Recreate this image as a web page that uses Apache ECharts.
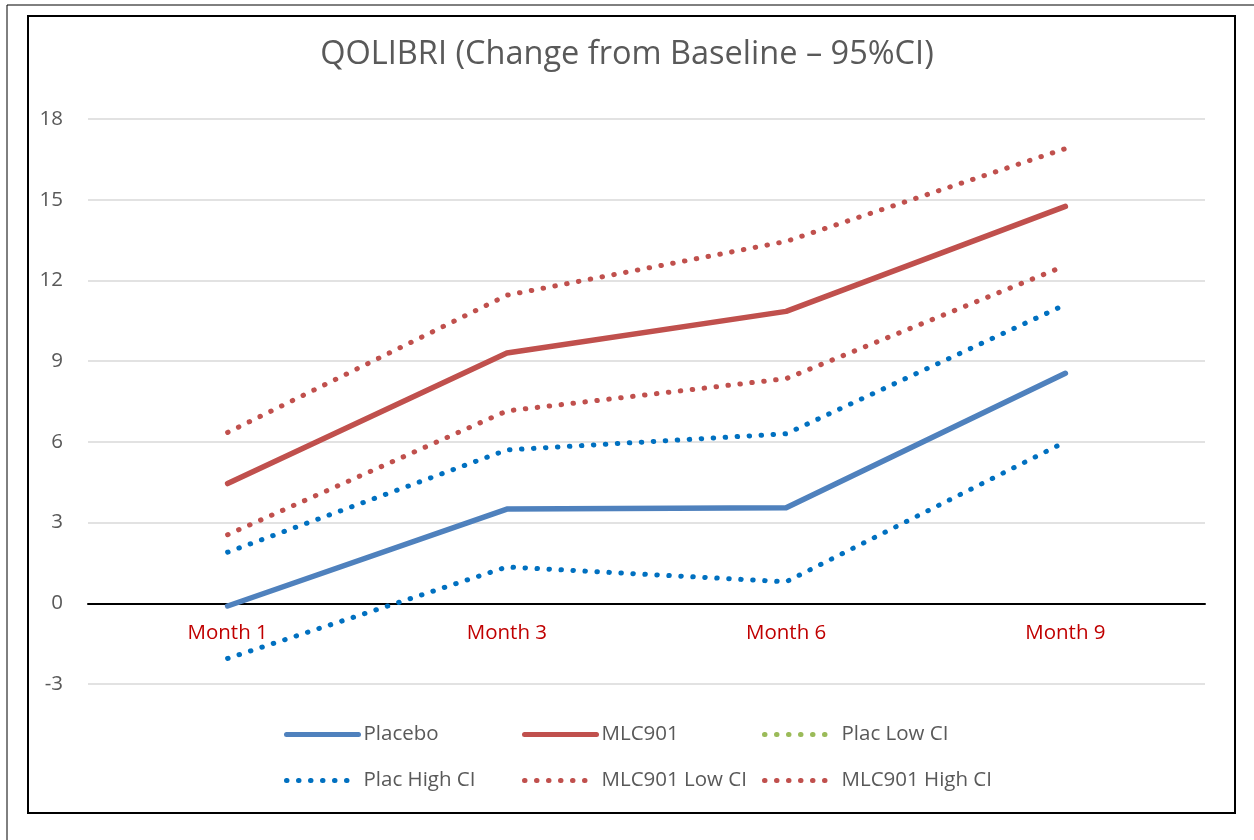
<!DOCTYPE html>
<html>
<head>
<meta charset="utf-8">
<script src="https://cdn.jsdelivr.net/npm/echarts@6/dist/echarts.min.js"></script>
<style>
  html, body { margin: 0; padding: 0; background: #fff; }
  #chart { width: 1254px; height: 840px; }
</style>
</head>
<body>
<div id="chart"></div>
<script>
// data
const months = ['Month 1', 'Month 3', 'Month 6', 'Month 9'];
const placebo = [-0.1, 3.5, 3.55, 8.55];
const mlc901 = [4.45, 9.3, 10.85, 14.75];
const placLowCI = [-2.05, 1.35, 0.8, 6.0];
const placHighCI = [1.9, 5.7, 6.3, 11.1];
const mlcLowCI = [2.55, 7.15, 8.35, 12.55];
const mlcHighCI = [6.35, 11.45, 13.45, 16.9];

const yTicks = { min: -3, max: 18, interval: 3 };

const BLUE = '#4F81BD';
const RED = '#C0504D';
const DOTBLUE = '#0070C0';
const GREEN = '#9BBB59';
const dots = [0.5, 11.5];
const fontFam = '"Open Sans", "Noto Sans", sans-serif';

let myChart = echarts.init(document.getElementById('chart'), null, { renderer: 'canvas' });

function solid(name, data, color) {
  return {
    name: name,
    type: 'line',
    data: data,
    symbol: 'none',
    itemStyle: { color: color },
    lineStyle: { color: color, width: 5.5, cap: 'round', join: 'round' },
    z: 3,
  };
}

function dotted(name, data, color) {
  return {
    name: name,
    type: 'line',
    data: data,
    symbol: 'none',
    itemStyle: { color: color },
    lineStyle: { color: color, width: 5, type: dots, cap: 'round', join: 'round' },
    z: 2,
  };
}

const legendBase = {
  orient: 'vertical',
  top: 719,
  itemWidth: 72,
  itemHeight: 20,
  itemGap: 25,
  selectedMode: false,
  itemStyle: { opacity: 0 },
  lineStyle: { width: 5 },
  textStyle: { fontFamily: fontFam, fontSize: 20.5, color: '#595959' },
};

let option = {
  backgroundColor: '#fff',
  animation: false,
  title: {
    text: 'QOLIBRI (Change from Baseline \u2013 95%CI)',
    left: 'center',
    top: 33,
    textStyle: { fontFamily: fontFam, fontWeight: 'normal', fontSize: 32.5, color: '#595959' },
  },
  graphic: [
    { type: 'rect', shape: { x: 7, y: 5, width: 1260, height: 850 }, style: { fill: 'none', stroke: '#000', lineWidth: 1 } },
    { type: 'rect', shape: { x: 28, y: 16, width: 1207, height: 797 }, style: { fill: 'none', stroke: '#000', lineWidth: 2 } },
  ],
  legend: [
    Object.assign({}, legendBase, { left: 279, data: ['Placebo', 'Plac High CI'] }),
    Object.assign({}, legendBase, { left: 517, data: ['MLC901', 'MLC901 Low CI'] }),
    Object.assign({}, legendBase, {
      left: 757,
      data: [
        { name: 'Plac Low CI', itemStyle: { color: GREEN }, lineStyle: { color: GREEN } },
        'MLC901 High CI',
      ],
    }),
  ],
  grid: { left: 88, right: 49, top: 119, height: 565, containLabel: false },
  xAxis: {
    type: 'category',
    data: months,
    boundaryGap: true,
    axisLine: { onZero: true, lineStyle: { color: '#000', width: 2 } },
    axisTick: { show: false },
    axisLabel: { color: '#C00000', fontFamily: fontFam, fontSize: 20.5, margin: -61 },
  },
  yAxis: {
    type: 'value',
    min: yTicks.min,
    max: yTicks.max,
    interval: yTicks.interval,
    axisLine: { show: false },
    axisTick: { show: false },
    axisLabel: { color: '#595959', fontFamily: fontFam, fontSize: 20.5, margin: 25 },
    splitLine: { lineStyle: { color: '#D9D9D9', width: 1.5 } },
  },
  series: [
    dotted('Plac High CI', placHighCI, DOTBLUE),
    dotted('MLC901 Low CI', mlcLowCI, RED),
    dotted('MLC901 High CI', mlcHighCI, RED),
    dotted('Plac Low CI', placLowCI, DOTBLUE),
    solid('Placebo', placebo, BLUE),
    solid('MLC901', mlc901, RED),
  ],
};

myChart.setOption(option);
</script>
</body>
</html>
